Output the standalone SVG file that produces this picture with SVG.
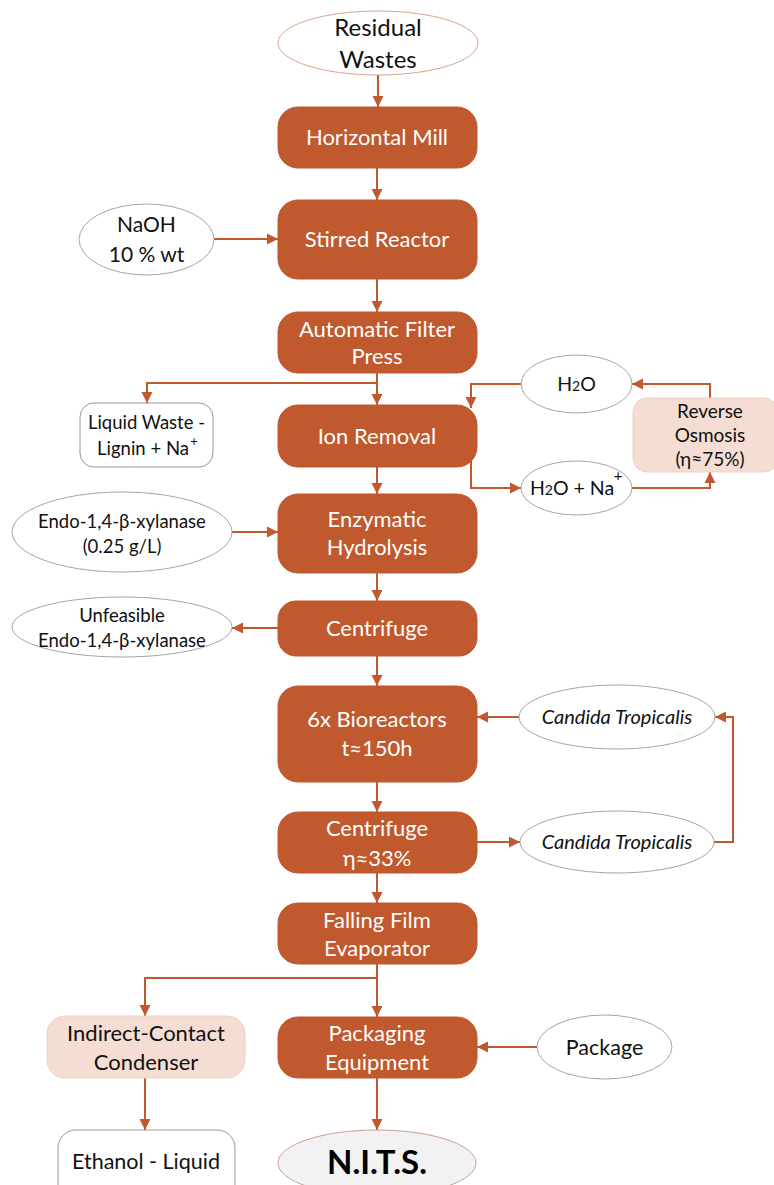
<svg xmlns="http://www.w3.org/2000/svg" width="774" height="1185" viewBox="0 0 774 1185">
<defs>
<marker id="ah" markerWidth="12" markerHeight="12" refX="11" refY="6" orient="auto" markerUnits="userSpaceOnUse">
<path d="M0,0.5 L11,6 L0,11.5 Z" fill="#C0592D"/>
</marker>
<style>
.box{fill:#C0592D;stroke:#C0592D;stroke-width:1}
.pink{fill:#F5DDD3;stroke:#F0D0C4;stroke-width:1}
.ell{fill:#fff;stroke:#9a9a9a;stroke-width:0.9}
.wbox{fill:#fff;stroke:#8a8a8a;stroke-width:0.9}
.con{fill:none;stroke:#C0592D;stroke-width:2;marker-end:url(#ah)}
text{font-family:Lato,"Open Sans","Liberation Sans",sans-serif;text-anchor:middle}
.wt{fill:#fff;font-size:22px}
.bt{fill:#111;font-size:18.5px}
.it{font-style:italic}
</style>
</defs>
<rect width="774" height="1185" fill="#fff"/>

<g id="connectors">
<path class="con" d="M378,75 V107"/>
<path class="con" d="M377,168 V200"/>
<path class="con" d="M214,239 H278"/>
<path class="con" d="M377,279 V312"/>
<path class="con" d="M377,373 V405"/>
<path class="con" d="M377,383 H147 V403"/>
<path class="con" d="M521,384 H471 V408"/>
<path class="con" d="M471,455 V488 H521"/>
<path class="con" d="M632,488 H710 V472"/>
<path class="con" d="M710,398 V384 H632"/>
<path class="con" d="M377,467 V494"/>
<path class="con" d="M232,532 H278"/>
<path class="con" d="M377,573 V601"/>
<path class="con" d="M278,628 H232"/>
<path class="con" d="M377,656 V686"/>
<path class="con" d="M519,717 H477"/>
<path class="con" d="M377,782 V812"/>
<path class="con" d="M477,842 H520"/>
<path class="con" d="M714,842 H733 V717 H715"/>
<path class="con" d="M377,873 V903"/>
<path class="con" d="M377,964 V1017"/>
<path class="con" d="M377,978 H145 V1016"/>
<path class="con" d="M537,1047 H477"/>
<path class="con" d="M145,1078 V1130"/>
<path class="con" d="M377,1078 V1130"/>
</g>

<g id="residual-wastes">
<ellipse cx="378" cy="43" rx="100" ry="32" fill="#fff" stroke="#D9A48E" stroke-width="1"/>
<text x="378" y="36" class="bt" style="font-size:24px">Residual</text>
<text x="378" y="68" class="bt" style="font-size:24px">Wastes</text>
</g>

<g id="horizontal-mill">
<rect class="box" x="278" y="107" width="199" height="61" rx="20"/>
<text x="377" y="145" class="wt">Horizontal Mill</text>
</g>

<g id="naoh">
<ellipse class="ell" cx="146.5" cy="239.5" rx="67.5" ry="35.5"/>
<text x="146.5" y="232" class="bt" style="font-size:21px">NaOH</text>
<text x="146.5" y="262" class="bt" style="font-size:21px">10 % wt</text>
</g>

<g id="stirred-reactor">
<rect class="box" x="278" y="200" width="199" height="79" rx="20"/>
<text x="377" y="247" class="wt">Stirred Reactor</text>
</g>

<g id="filter-press">
<rect class="box" x="278" y="312" width="199" height="61" rx="20"/>
<text x="377" y="337" class="wt">Automatic Filter</text>
<text x="377" y="364" class="wt">Press</text>
</g>

<g id="liquid-waste">
<rect class="wbox" x="80" y="403" width="133" height="64" rx="14"/>
<text x="146.5" y="429" class="bt">Liquid Waste -</text>
<text x="143" y="455" class="bt">Lignin + Na</text>
<text x="194" y="446" class="bt" style="font-size:13px">+</text>
</g>

<g id="ion-removal">
<rect class="box" x="278" y="405" width="199" height="62" rx="20"/>
<text x="377" y="444" class="wt">Ion Removal</text>
</g>

<g id="h2o">
<ellipse class="ell" cx="576.5" cy="384" rx="55.5" ry="29"/>
<text x="576.5" y="391" class="bt" style="font-size:19.5px">H<tspan style="font-size:14px">2</tspan>O</text>
</g>

<g id="h2o-na">
<ellipse class="ell" cx="576.5" cy="488" rx="55.5" ry="27"/>
<text x="572" y="495" class="bt" style="font-size:19.5px">H<tspan style="font-size:14px">2</tspan>O + Na</text>
<text x="618" y="481" class="bt" style="font-size:15px">+</text>
</g>

<g id="reverse-osmosis">
<rect class="pink" x="633" y="398" width="145" height="74" rx="14"/>
<text x="710" y="418" class="bt" style="font-size:19px">Reverse</text>
<text x="710" y="442" class="bt" style="font-size:19px">Osmosis</text>
<text x="710" y="466" class="bt" style="font-size:19px">(η≈75%)</text>
</g>

<g id="endo-xylanase">
<ellipse class="ell" cx="122" cy="532" rx="110" ry="40"/>
<text x="122" y="528" class="bt">Endo-1,4-β-xylanase</text>
<text x="122" y="553" class="bt">(0.25 g/L)</text>
</g>

<g id="enzymatic-hydrolysis">
<rect class="box" x="278" y="494" width="199" height="79" rx="20"/>
<text x="377" y="527" class="wt">Enzymatic</text>
<text x="377" y="555" class="wt">Hydrolysis</text>
</g>

<g id="unfeasible">
<ellipse class="ell" cx="122" cy="627" rx="110" ry="30"/>
<text x="122" y="622" class="bt">Unfeasible</text>
<text x="122" y="647" class="bt">Endo-1,4-β-xylanase</text>
</g>

<g id="centrifuge-1">
<rect class="box" x="278" y="601" width="199" height="55" rx="18"/>
<text x="377" y="636" class="wt">Centrifuge</text>
</g>

<g id="bioreactors">
<rect class="box" x="278" y="686" width="199" height="96" rx="20"/>
<text x="377" y="727" class="wt">6x Bioreactors</text>
<text x="377" y="756" class="wt">t≈150h</text>
</g>

<g id="candida-1">
<ellipse class="ell" cx="617" cy="717" rx="98" ry="32"/>
<text x="617" y="724" class="bt it" style="font-size:20px">Candida Tropicalis</text>
</g>

<g id="centrifuge-2">
<rect class="box" x="278" y="812" width="199" height="61" rx="20"/>
<text x="377" y="836" class="wt">Centrifuge</text>
<text x="377" y="866" class="wt">η≈33%</text>
</g>

<g id="candida-2">
<ellipse class="ell" cx="617" cy="842" rx="97" ry="31"/>
<text x="617" y="849" class="bt it" style="font-size:20px">Candida Tropicalis</text>
</g>

<g id="falling-film">
<rect class="box" x="278" y="903" width="199" height="61" rx="20"/>
<text x="377" y="928" class="wt">Falling Film</text>
<text x="377" y="956" class="wt">Evaporator</text>
</g>

<g id="condenser">
<rect class="pink" x="47" y="1016" width="198" height="62" rx="18"/>
<text x="146" y="1041" class="bt" style="font-size:22px">Indirect-Contact</text>
<text x="146" y="1070" class="bt" style="font-size:22px">Condenser</text>
</g>

<g id="packaging">
<rect class="box" x="278" y="1017" width="199" height="61" rx="20"/>
<text x="377" y="1041" class="wt">Packaging</text>
<text x="377" y="1070" class="wt">Equipment</text>
</g>

<g id="package">
<ellipse class="ell" cx="604.5" cy="1047" rx="67.5" ry="32"/>
<text x="604.5" y="1055" class="bt" style="font-size:21.5px">Package</text>
</g>

<g id="ethanol">
<rect class="wbox" x="58" y="1130" width="177" height="80" rx="18"/>
<text x="146" y="1169" class="bt" style="font-size:21.5px">Ethanol - Liquid</text>
</g>

<g id="nits">
<ellipse cx="377" cy="1163" rx="99" ry="33" fill="#F2F2F2" stroke="#C9A08E" stroke-width="1"/>
<text x="377" y="1174" style="font-size:33px;font-weight:bold;fill:#000">N.I.T.S.</text>
</g>
</svg>
